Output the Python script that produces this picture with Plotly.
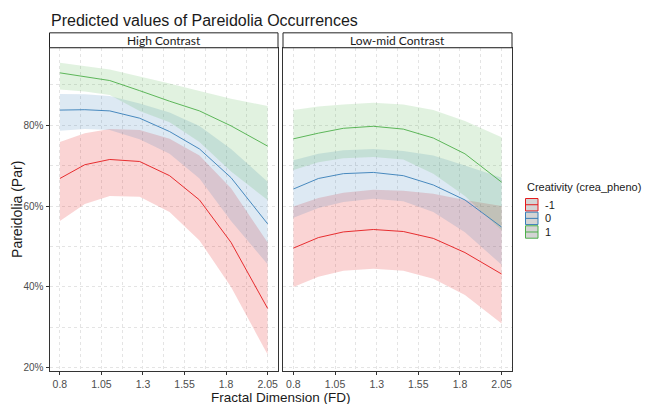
import plotly.graph_objects as go

# ---------------- data ----------------
fd = [0.8, 0.95, 1.1, 1.28, 1.46, 1.64, 1.83, 2.05]

# High Contrast panel
hc_m1 = [66.8, 70.2, 71.5, 71.0, 67.5, 61.5, 51.0, 34.7]
hc_m1_lo = [56.3, 60.5, 62.5, 62.3, 58.5, 51.5, 40.0, 23.3]
hc_m1_hi = [75.8, 78.0, 79.0, 78.8, 76.6, 72.5, 64.4, 51.0]
hc_0 = [83.7, 83.8, 83.5, 81.7, 78.4, 74.1, 67.0, 55.6]
hc_0_lo = [78.6, 79.0, 78.8, 76.5, 72.9, 66.8, 56.3, 45.6]
hc_0_hi = [87.7, 87.6, 87.2, 85.3, 83.1, 79.8, 74.1, 66.0]
hc_1 = [92.9, 92.0, 91.0, 88.5, 85.9, 83.5, 79.8, 74.8]
hc_1_lo = [88.8, 88.3, 87.4, 83.5, 80.7, 75.8, 68.5, 61.5]
hc_1_hi = [95.4, 94.6, 93.7, 92.0, 90.3, 88.4, 86.5, 84.7]

# Low-mid Contrast panel
lm_m1 = [49.6, 52.2, 53.6, 54.2, 53.7, 52.0, 48.5, 43.2]
lm_m1_lo = [40.0, 42.5, 44.0, 44.5, 44.0, 42.0, 38.0, 31.0]
lm_m1_hi = [59.9, 62.0, 63.3, 64.0, 63.8, 63.0, 61.5, 60.0]
lm_0 = [64.2, 66.8, 68.0, 68.3, 67.5, 65.2, 61.5, 54.8]
lm_0_lo = [57.1, 59.5, 61.0, 61.8, 61.2, 58.5, 53.5, 45.5]
lm_0_hi = [71.3, 72.9, 73.8, 74.1, 73.6, 72.5, 70.0, 67.0]
lm_1 = [76.6, 78.0, 79.2, 79.7, 79.0, 76.8, 72.9, 65.9]
lm_1_lo = [68.9, 70.8, 71.8, 72.1, 71.5, 68.0, 62.5, 54.0]
lm_1_hi = [83.7, 84.6, 85.1, 85.5, 85.1, 83.7, 81.0, 77.0]

panels = ["High Contrast", "Low-mid Contrast"]
groups = ["-1", "0", "1"]
x_tickvals = [0.8, 1.05, 1.3, 1.55, 1.8, 2.05]
x_ticktext = ["0.8", "1.05", "1.3", "1.55", "1.8", "2.05"]
x_minor = [0.925, 1.175, 1.425, 1.675, 1.925]
y_tickvals = [20, 40, 60, 80]
y_ticktext = ["20%", "40%", "60%", "80%"]
y_minor = [30, 50, 70, 90]

line_colors = ["rgb(228,26,28)", "rgb(55,126,184)", "rgb(77,175,74)"]
fill_colors = ["rgba(228,26,28,0.19)", "rgba(55,126,184,0.17)", "rgba(77,175,74,0.17)"]

data = {
    0: [(hc_m1, hc_m1_lo, hc_m1_hi), (hc_0, hc_0_lo, hc_0_hi), (hc_1, hc_1_lo, hc_1_hi)],
    1: [(lm_m1, lm_m1_lo, lm_m1_hi), (lm_0, lm_0_lo, lm_0_hi), (lm_1, lm_1_lo, lm_1_hi)],
}

fig = go.Figure()
for p in (0, 1):
    xa = "x" if p == 0 else "x2"
    ya = "y" if p == 0 else "y2"
    for g, (m, lo, hi) in enumerate(data[p]):
        fig.add_trace(go.Scatter(
            x=fd + fd[::-1], y=hi + lo[::-1], fill="toself",
            fillcolor=fill_colors[g], line=dict(width=0), mode="lines",
            xaxis=xa, yaxis=ya, showlegend=False, hoverinfo="skip"))
    for g, (m, lo, hi) in enumerate(data[p]):
        fig.add_trace(go.Scatter(
            x=fd, y=m, mode="lines", line=dict(color=line_colors[g], width=0.9),
            xaxis=xa, yaxis=ya, showlegend=False, name=groups[g]))

W, H = 646, 404
def px(x):
    return x / W
def py(y):
    return 1 - y / H

dom_left = [px(49.5), px(278)]
dom_right = [px(283), px(512)]
ydom = [py(373), py(48)]

grid = dict(showgrid=True, gridcolor="#e4e4e4", griddash="3px,3px", gridwidth=1)
xcommon = dict(range=[0.7375, 2.1125], tickmode="array", tickvals=x_tickvals,
               ticktext=x_ticktext, ticks="outside", ticklen=3, tickcolor="#333",
               showline=True, mirror=True, linecolor="#333", linewidth=1,
               ticklabelstandoff=0,
               tickfont=dict(family="Liberation Sans, Arial", size=10.5, color="#4d4d4d"),
               zeroline=False,
               minor=dict(tickmode="array", tickvals=x_minor, ticks="", **grid), **grid)
ycommon = dict(range=[19.2, 99.1], tickmode="array", tickvals=y_tickvals,
               ticktext=y_ticktext, showline=True, mirror=True, linecolor="#333",
               linewidth=1, zeroline=False, domain=ydom,
               minor=dict(tickmode="array", tickvals=y_minor, ticks="", **grid), **grid)

fig.update_layout(
    width=W, height=H, margin=dict(l=0, r=0, t=0, b=0),
    paper_bgcolor="white", plot_bgcolor="white", showlegend=False,
    xaxis=dict(domain=dom_left, anchor="y", **xcommon),
    xaxis2=dict(domain=dom_right, anchor="y2", **xcommon),
    yaxis=dict(anchor="x", ticks="outside", ticklen=3, tickcolor="#333",
               tickfont=dict(family="Liberation Sans, Arial", size=10, color="#4d4d4d"),
               **ycommon),
    yaxis2=dict(anchor="x2", showticklabels=False, ticks="", matches="y", **ycommon),
)

shapes = []
annotations = []
# strips
for dom, label in ((dom_left, panels[0]), (dom_right, panels[1])):
    shapes.append(dict(type="rect", xref="paper", yref="paper", x0=dom[0], x1=dom[1],
                       y0=py(48), y1=py(33), line=dict(color="#222", width=1),
                       fillcolor="white", layer="above"))
    annotations.append(dict(text=label, xref="paper", yref="paper", x=(dom[0] + dom[1]) / 2,
                            y=py(40.5), showarrow=False, xanchor="center", yanchor="middle",
                            font=dict(family="Lato, Liberation Sans", size=12, color="#1a1a1a")))

# title
annotations.append(dict(text="Predicted values of Pareidolia Occurrences", xref="paper",
                        yref="paper", x=px(48.5), y=py(21), xanchor="left", yanchor="middle",
                        showarrow=False,
                        font=dict(family="Liberation Sans, Arial", size=16, color="#1a1a1a")))
# axis titles
annotations.append(dict(text="Fractal Dimension (FD)", xref="paper", yref="paper",
                        x=px(281), y=py(399.5), xanchor="center", yanchor="middle",
                        showarrow=False,
                        font=dict(family="Liberation Sans, Arial", size=13.5, color="#1a1a1a")))
annotations.append(dict(text="Pareidolia (Par)", xref="paper", yref="paper",
                        x=px(17), y=py(211), xanchor="center", yanchor="middle",
                        textangle=-90, showarrow=False,
                        font=dict(family="Liberation Sans, Arial", size=14, color="#1a1a1a")))

# legend
annotations.append(dict(text="Creativity (crea_pheno)", xref="paper", yref="paper",
                        x=px(525), y=py(188), xanchor="left", yanchor="middle",
                        showarrow=False,
                        font=dict(family="Liberation Sans, Arial", size=11, color="#1a1a1a")))
for i, g in enumerate(groups):
    top = 199.5 + i * 13.7
    bot = top + 12.5
    shapes.append(dict(type="rect", xref="paper", yref="paper", x0=px(525.5), x1=px(538),
                       y0=py(bot), y1=py(top), fillcolor="#d4d4d4",
                       line=dict(color=line_colors[i], width=1)))
    shapes.append(dict(type="line", xref="paper", yref="paper", x0=px(525.5), x1=px(538),
                       y0=py((top + bot) / 2), y1=py((top + bot) / 2),
                       line=dict(color=line_colors[i], width=1)))
    annotations.append(dict(text=g, xref="paper", yref="paper", x=px(543),
                            y=py((top + bot) / 2), xanchor="left", yanchor="middle",
                            showarrow=False,
                            font=dict(family="Liberation Sans, Arial", size=11, color="#1a1a1a")))

fig.update_layout(shapes=shapes, annotations=annotations)
fig.write_html("out.html")
